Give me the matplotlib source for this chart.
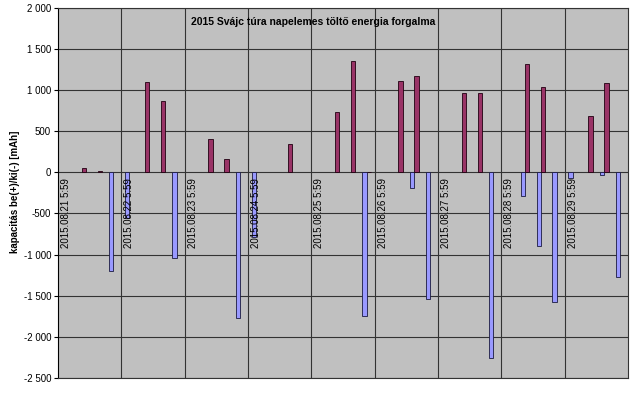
import numpy as np
import matplotlib
matplotlib.use("Agg")
import matplotlib.pyplot as plt
from matplotlib.ticker import FuncFormatter

plt.rcParams['font.family'] = ['Liberation Sans', 'DejaVu Sans']

# 6 hour slots, 4 per day, from 2015.08.21 5:59
day_labels = ["2015.08.21 5:59", "2015.08.22 5:59", "2015.08.23 5:59",
              "2015.08.24 5:59", "2015.08.25 5:59", "2015.08.26 5:59",
              "2015.08.27 5:59", "2015.08.28 5:59", "2015.08.29 5:59"]
slots_per_day = 4
nan = np.nan

# discharge (ki, negative) values per slot [mAh]
ki = [nan, nan, nan, -1206,
      -560, nan, nan, -1040,
      nan, nan, nan, -1771,
      -790, nan, nan, nan,
      nan, nan, nan, -1747,
      nan, nan, -195, -1547,
      nan, nan, nan, -2266,
      nan, -289, -894, -1576,
      -73, nan, -37, -1279]

# charge (be, positive) values per slot [mAh]
be = [nan, 50, 20, nan,
      nan, 1100, 872, nan,
      nan, 409, 162, nan,
      nan, nan, 341, nan,
      nan, 734, 1352, 5,
      nan, 1108, 1173, nan,
      nan, 966, 962, nan,
      nan, 1319, 1035, nan,
      nan, 690, 1088, nan]

fig = plt.figure(figsize=(6.35, 3.94), dpi=100)
ax = fig.add_axes([58 / 635, 1 - 377.7 / 394, 570 / 635, 369.5 / 394])
ax.set_facecolor("#C0C0C0")

x = np.arange(len(be))
w = 0.27
ax.bar(x - w / 2, ki, width=w, color="#9999FF", edgecolor="#1a1a40", linewidth=0.6, zorder=3)
ax.bar(x + w / 2, be, width=w, color="#993366", edgecolor="#200010", linewidth=0.6, zorder=3)

ax.set_xlim(-0.5, len(be) - 0.5)
ax.set_ylim(-2500, 2000)
ax.set_yticks(np.arange(-2500, 2001, 500))
ax.yaxis.set_major_formatter(FuncFormatter(lambda v, p: f"{int(v):,}".replace(",", " ")))
ax.tick_params(axis='y', labelsize=7, length=3, width=0.8, pad=2, color="#000000")
ax.set_xticks([])

# grid
for yv in np.arange(-2500, 2001, 500):
    ax.axhline(yv, color="#333333", lw=0.8, zorder=1)
for d in range(1, len(day_labels)):
    ax.axvline(d * slots_per_day - 0.5, color="#333333", lw=0.8, zorder=1)

for s in ["top", "right", "bottom"]:
    ax.spines[s].set_color("#333333")
    ax.spines[s].set_linewidth(0.8)
ax.spines["left"].set_color("#000000")
ax.spines["left"].set_linewidth(0.8)

# category labels under the zero line
for i, lab in enumerate(day_labels):
    ax.annotate(lab, xy=(i * slots_per_day, 0), xytext=(0, -4),
                textcoords="offset points", rotation=90, ha="center", va="top",
                fontsize=7, zorder=4)

fig.text((194 + 432) / 2 / 635, 1 - 22 / 394, "2015 Svájc túra napelemes töltő energia forgalma",
         ha="center", va="center", fontsize=7.5, fontweight="bold")
fig.text(15 / 635, 1 - 192 / 394, "kapacitás be(+)/ki(-) [mAh]", rotation=90,
         ha="center", va="center", fontsize=7, fontweight="bold")

fig.savefig("out.png", dpi=100)
